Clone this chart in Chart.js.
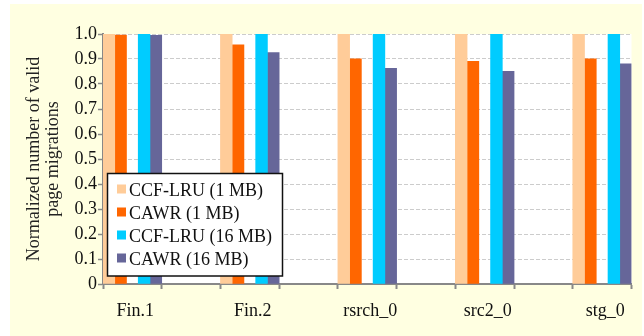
<!DOCTYPE html>
<html>
<head>
<meta charset="utf-8">
<script src="https://cdn.jsdelivr.net/npm/chart.js@4"></script>
<style>
  html, body { margin: 0; padding: 0; background: #ffffff; }
  #wrap { width: 644px; height: 336px; position: relative; }
</style>
</head>
<body>
<div id="wrap"><canvas id="c" width="644" height="336"></canvas></div>
<script>
// ---- data ----
const workloads = ['Fin.1', 'Fin.2', 'rsrch_0', 'src2_0', 'stg_0'];
const ccfLru1MB  = [1.0, 1.0, 1.0, 1.0, 1.0];
const cawr1MB    = [0.996, 0.957, 0.901, 0.891, 0.901];
const ccfLru16MB = [1.0, 1.0, 1.0, 1.0, 1.0];
const cawr16MB   = [0.995, 0.926, 0.863, 0.851, 0.881];
const yTicks = [0, 0.1, 0.2, 0.3, 0.4, 0.5, 0.6, 0.7, 0.8, 0.9, 1.0];
const seriesNames = ['CCF-LRU (1 MB)', 'CAWR (1 MB)', 'CCF-LRU (16 MB)', 'CAWR (16 MB)'];
const seriesColors = ['#FFCC99', '#FF6600', '#00CCFF', '#666699'];

// workloads alternate with empty slots on the category axis
const labels = [];
workloads.forEach((w, i) => { labels.push(w); if (i < workloads.length - 1) labels.push(''); });
const spread = arr => { const out = []; arr.forEach((v, i) => { out.push(v); if (i < arr.length - 1) out.push(null); }); return out; };
const nulls = labels.map(() => null);

const FONT = "'Liberation Serif', 'Times New Roman', serif";

const bgPlugin = {
  id: 'bg',
  beforeDraw(chart) {
    const {ctx, chartArea: a} = chart;
    ctx.save();
    ctx.fillStyle = '#ffffff';
    ctx.fillRect(0, 0, chart.width, chart.height);
    ctx.fillStyle = '#FFFFE1';
    ctx.fillRect(10, 4, 632, 332);
    ctx.fillStyle = '#ffffff';
    ctx.fillRect(a.left, a.top, a.right - a.left, a.bottom - a.top);
    ctx.restore();
  }
};

const legendPlugin = {
  id: 'boxLegend',
  afterDraw(chart) {
    const {ctx, chartArea: a} = chart;
    const x0 = a.left + 4.5, y0 = a.top + 139.5, w = 175, h = 102.5;
    ctx.save();
    ctx.fillStyle = '#ffffff';
    ctx.fillRect(x0, y0, w, h);
    ctx.strokeStyle = '#111111';
    ctx.lineWidth = 1.5;
    ctx.strokeRect(x0, y0, w, h);
    ctx.font = '18px ' + FONT;
    ctx.textBaseline = 'middle';
    ctx.textAlign = 'left';
    const items = chart.data.datasets.filter(d => d.label);
    items.forEach((d, i) => {
      const cy = y0 + 17 + i * 23;
      ctx.fillStyle = d.backgroundColor;
      ctx.fillRect(x0 + 9.5, cy - 6, 9, 9);
      ctx.fillStyle = '#111111';
      ctx.fillText(d.label, x0 + 21.5, cy + 1);
    });
    ctx.restore();
  }
};

new Chart(document.getElementById('c'), {
  type: 'bar',
  data: {
    labels: labels,
    datasets: [
      { label: seriesNames[0], data: spread(ccfLru1MB),  backgroundColor: seriesColors[0] },
      { label: seriesNames[1], data: spread(cawr1MB),    backgroundColor: seriesColors[1] },
      { label: '',             data: nulls,              backgroundColor: 'rgba(0,0,0,0)' },
      { label: seriesNames[2], data: spread(ccfLru16MB), backgroundColor: seriesColors[2] },
      { label: seriesNames[3], data: spread(cawr16MB),   backgroundColor: seriesColors[3] }
    ]
  },
  options: {
    responsive: false,
    animation: false,
    devicePixelRatio: 1,
    layout: { padding: { left: 10, top: 34, right: 12.5, bottom: 0 } },
    datasets: { bar: { barPercentage: 1, categoryPercentage: 1, borderWidth: 0 } },
    plugins: { legend: { display: false }, tooltip: { enabled: false } },
    scales: {
      x: {
        offset: true,
        grid: { offset: true, drawOnChartArea: false, drawTicks: true, tickLength: 5, tickColor: '#888888', tickWidth: 2 },
        border: { color: '#888888', width: 2 },
        ticks: { autoSkip: false, maxRotation: 0, minRotation: 0, padding: 11, labelOffset: 3,
                 color: '#111111', font: { family: FONT, size: 18 } },
        afterFit(scale) { scale.height = 52; }
      },
      y: {
        min: 0, max: 1,
        afterBuildTicks(scale) { scale.ticks = yTicks.map(v => ({ value: v })); },
        grid: { color: '#cccccc', lineWidth: 1, drawTicks: true, tickLength: 5, tickColor: '#888888', tickWidth: 1.5 },
        border: { color: '#888888', width: 2, dash: [4, 2] },
        ticks: { padding: 1, color: '#111111', font: { family: FONT, size: 18 },
                 callback: v => (v === 0 ? '0' : Number(v).toFixed(1)) },
        title: { display: true, text: ['Normalized number of valid', 'page migrations'],
                 color: '#222222', padding: { top: 14.5, bottom: 0 },
                 font: { family: FONT, size: 18, lineHeight: 1.06 } },
        afterFit(scale) { scale.width = 93; }
      }
    }
  },
  plugins: [bgPlugin, legendPlugin]
});
</script>
</body>
</html>
